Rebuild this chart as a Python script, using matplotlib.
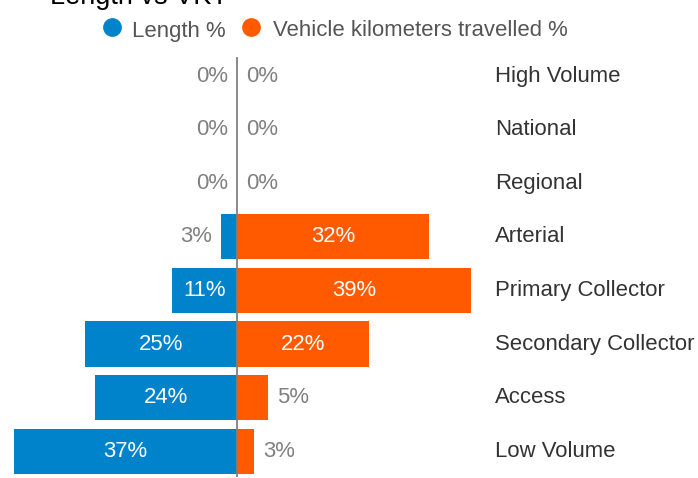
import matplotlib
matplotlib.use("Agg")
import matplotlib.pyplot as plt
from matplotlib.lines import Line2D

plt.rcParams['font.family'] = ['Liberation Sans', 'DejaVu Sans']

categories = ["High Volume", "National", "Regional", "Arterial", "Primary Collector",
              "Secondary Collector", "Access", "Low Volume"]
length_pct = [0, 0, 0, 2.7, 10.8, 25.3, 23.7, 37.2]
vkt_pct = [0, 0, 0, 32.0, 39.0, 22.0, 5.2, 2.8]
series_names = ["Length %", "Vehicle kilometers travelled %"]
title = "Length vs VKT"

BLUE = "#0083CB"
ORANGE = "#FF5A00"
GREY = "#808080"
W, H = 698, 478
DPI = 100

fig = plt.figure(figsize=(W / DPI, H / DPI), dpi=DPI)
ax = fig.add_axes([0, 0, 1, 1])
ax.set_axis_off()

# pixel mapping
px_per_unit = 6.0
x0_px = 237
row0_px = 76
row_step = 53.6
ax.set_xlim(-x0_px / px_per_unit, (W - x0_px) / px_per_unit)
ax.set_ylim((H - row0_px) / row_step, -row0_px / row_step)

ypos = list(range(len(categories)))
bh = 0.84
ax.barh(ypos, [-v for v in length_pct], height=bh, color=BLUE, edgecolor='none', zorder=2)
ax.barh(ypos, vkt_pct, height=bh, color=ORANGE, edgecolor='none', zorder=2)

ax.axvline(0, ymin=1 - 476 / H, ymax=1 - 58 / H, color="#7f7f7f", lw=1.3, zorder=3)

fs = 15.9
gap = 9 / px_per_unit
for i, (l, v) in enumerate(zip(length_pct, vkt_pct)):
    if l >= 10:
        ax.text(-l / 2, i, f"{l:.0f}%", color="white", fontsize=fs, ha='center', va='center', zorder=4)
    else:
        ax.text(-l - gap, i, f"{l:.0f}%", color=GREY, fontsize=fs, ha='right', va='center', zorder=4)
    if v >= 10:
        ax.text(v / 2, i, f"{v:.0f}%", color="white", fontsize=fs, ha='center', va='center', zorder=4)
    else:
        ax.text(v + gap, i, f"{v:.0f}%", color=GREY, fontsize=fs, ha='left', va='center', zorder=4)
    ax.text((495 - x0_px) / px_per_unit, i, categories[i], color="#333333", fontsize=fs,
            ha='left', va='center', zorder=4)

def fx(px):
    return px / W

def fy(py):
    return 1 - py / H

# title (cut off at top)
fig.text(fx(50), fy(4), title, fontsize=19.5, color="black", ha='left', va='baseline')

# legend
for cx, tx, col, name in [(112, 132, BLUE, series_names[0]), (251, 273, ORANGE, series_names[1])]:
    fig.add_artist(Line2D([fx(cx)], [fy(27)], marker='o', markersize=13.5, color=col,
                          markeredgewidth=0, linestyle='none', transform=fig.transFigure))
    fig.text(fx(tx), fy(31), name, fontsize=fs, color="#555555", ha='left', va='center')

fig.savefig("out.png", dpi=DPI)
